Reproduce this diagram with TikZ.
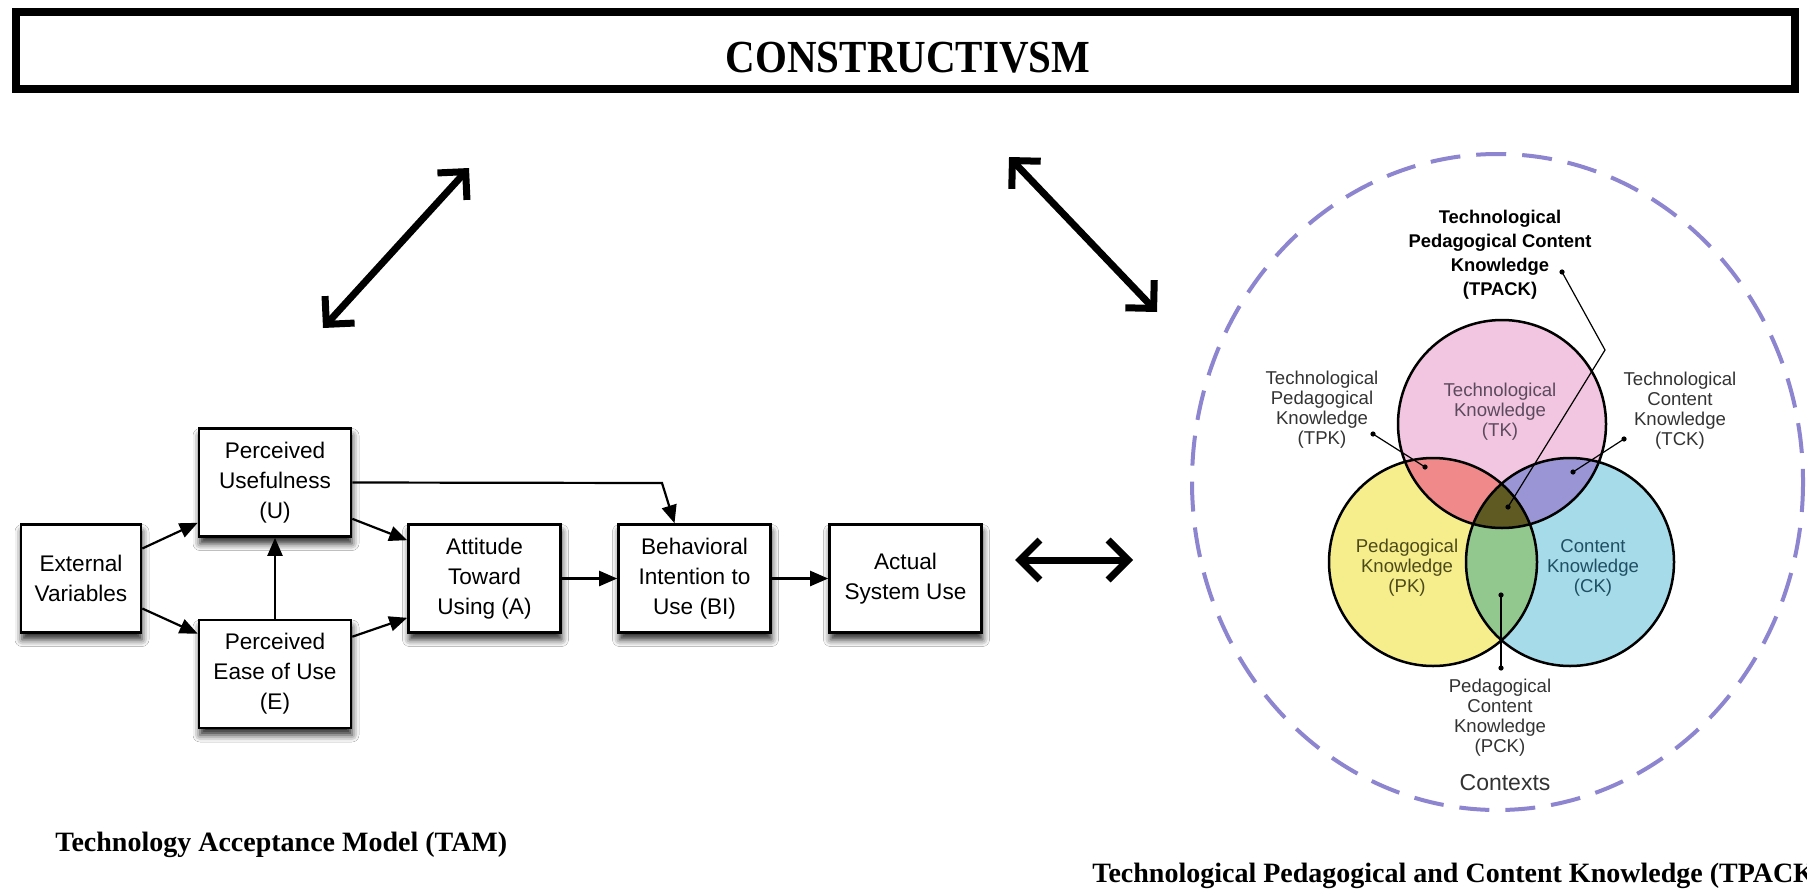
\documentclass[tikz,border=0pt]{standalone}
\usepackage{fontspec}
\setmainfont{Liberation Serif}
\newfontfamily\arial{Liberation Sans}
\usepackage{graphicx}
\usetikzlibrary{arrows.meta,shadows.blur}
\definecolor{tkpink}{HTML}{F2C6E0}
\definecolor{pkyellow}{HTML}{F6EE8C}
\definecolor{ckblue}{HTML}{A6DCEA}
\definecolor{tpkred}{HTML}{F08A8A}
\definecolor{tckviolet}{HTML}{9A96D6}
\definecolor{pckgreen}{HTML}{92C88E}
\definecolor{tpackolive}{HTML}{5E5A22}
\definecolor{ctxlav}{HTML}{8D85CF}
\definecolor{labelgray}{HTML}{333333}
\definecolor{tktext}{HTML}{5B4A5E}
\definecolor{pktext}{HTML}{4D4A1A}
\definecolor{cktext}{HTML}{1F4F63}
\begin{document}
\begin{tikzpicture}[x=0.5pt,y=-0.5pt,
  tambox/.style={draw=black, line width=1.3pt, fill=white, minimum width=76pt,
    minimum height=54pt, align=center, font=\arial\fontsize{11.3}{15}\selectfont,
    inner sep=0pt, blur shadow={shadow xshift=0.5pt, shadow yshift=-3.5pt,
    shadow blur radius=3.5pt, shadow opacity=85}},
  tamarrow/.style={line width=1.1pt, -{Triangle[length=9pt,width=7.5pt]}},
  bigarrow/.style={line width=3.5pt,
    {Straight Barb[length=10pt,width=20pt]}-{Straight Barb[length=10pt,width=20pt]}},
  venntext/.style={align=center, font=\arial\fontsize{9.3}{10}\selectfont,
    inner sep=0pt, text=labelgray},
  leader/.style={line width=0.6pt, black},
  vdot/.style={fill=black},
  caption/.style={anchor=west, inner sep=0pt, font=\bfseries\fontsize{14}{16}\selectfont}
]
\clip (0,0) rectangle (1807,894);
\fill[white] (0,0) rectangle (1807,894);

% title frame
\node[draw, line width=4pt, minimum width=889.5pt, minimum height=38.5pt, inner sep=0pt] (frame) at (905.5,50.5) {};
\node[inner sep=0pt, font=\bfseries\fontsize{20.5}{24}\selectfont] (title) at (908,58) {\scalebox{1}[1.12]{CONSTRUCTIVSM}};

% big arrows
\coordinate (a1s) at (323,328); \coordinate (a1e) at (469,168);
\coordinate (a2s) at (1009,157); \coordinate (a2e) at (1157,312);
\coordinate (a3s) at (1015,560); \coordinate (a3e) at (1133,560);
\draw[bigarrow] (a1s) -- (a1e);
\draw[bigarrow] (a2s) -- (a2e);
\draw[bigarrow] (a3s) -- (a3e);

% TAM
\node[tambox, minimum width=60pt] (ext) at (81,578.5) {External\\Variables};
\node[tambox] (U) at (275,482.5) {Perceived\\Usefulness\\(U)};
\node[tambox] (E) at (275,674) {Perceived\\Ease of Use\\(E)};
\node[tambox] (A) at (484.5,578.5) {Attitude\\Toward\\Using (A)};
\node[tambox] (BI) at (694.5,578.5) {Behavioral\\Intention to\\Use (BI)};
\node[tambox] (ASU) at (905.5,578.5) {Actual\\System Use};
\coordinate (ubend) at (662,483);
\draw[tamarrow] ([yshift=15pt]ext.east) -- ([yshift=7.5pt]U.south west);
\draw[tamarrow] ([yshift=-15pt]ext.east) -- ([yshift=-7.5pt]E.north west);
\draw[tamarrow] (E.north) -- (U.south);
\draw[tamarrow] ([yshift=9.5pt]U.south east) -- ([yshift=-8.5pt]A.north west);
\draw[tamarrow] ([yshift=-9pt]E.north east) -- ([yshift=8pt]A.south west);
\draw[tamarrow] (U.east) -- (ubend) -- ([xshift=-10pt]BI.north);
\draw[tamarrow] (A.east) -- (BI.west);
\draw[tamarrow] (BI.east) -- (ASU.west);

\node[caption] (tamcap) at (55,845) {Technology Acceptance Model (TAM)};
\node[caption] (tpackcap) at (1092,876) {Technological Pedagogical and Content Knowledge (TPACK)};

% TPACK
\draw[ctxlav, line width=2pt, dash pattern=on 15pt off 8pt] (1497.5,482) ellipse [x radius=305.5, y radius=328];
\coordinate (tk) at (1502,424);
\coordinate (pk) at (1433,562);
\coordinate (ck) at (1570,562);
\def\R{104}
\fill[tkpink] (tk) circle[radius=\R];
\fill[pkyellow] (pk) circle[radius=\R];
\fill[ckblue] (ck) circle[radius=\R];
\begin{scope}
  \clip (tk) circle[radius=\R];
  \fill[tpkred] (pk) circle[radius=\R];
  \fill[tckviolet] (ck) circle[radius=\R];
\end{scope}
\begin{scope}
  \clip (pk) circle[radius=\R];
  \fill[pckgreen] (ck) circle[radius=\R];
\end{scope}
\begin{scope}
  \clip (tk) circle[radius=\R];
  \clip (pk) circle[radius=\R];
  \fill[tpackolive] (ck) circle[radius=\R];
\end{scope}
\draw[line width=1.25pt] (tk) circle[radius=\R];
\draw[line width=1.25pt] (pk) circle[radius=\R];
\draw[line width=1.25pt] (ck) circle[radius=\R];

\node[venntext, text=tktext] (tklab) at (1500,412) {Technological\\Knowledge\\(TK)};
\node[venntext, text=pktext] (pklab) at (1407,568) {Pedagogical\\Knowledge\\(PK)};
\node[venntext, text=cktext] (cklab) at (1593,568) {Content\\Knowledge\\(CK)};
\node[venntext] (tpklab) at (1322,410) {Technological\\Pedagogical\\Knowledge\\(TPK)};
\node[venntext] (tcklab) at (1680,411) {Technological\\Content\\Knowledge\\(TCK)};
\node[venntext] (pcklab) at (1500,718) {Pedagogical\\Content\\Knowledge\\(PCK)};
\node[align=center, inner sep=0pt, text=black, font=\arial\bfseries\fontsize{9.2}{12}\selectfont] (tpacklab) at (1500,255) {Technological\\Pedagogical Content\\Knowledge\\(TPACK)};
\node[inner sep=0pt, text=labelgray, font=\arial\fontsize{11.5}{13}\selectfont] (ctx) at (1505,783) {Contexts};

\coordinate (d1) at (1562,272); \coordinate (d1b) at (1605,350); \coordinate (d1e) at (1508,507);
\coordinate (d2) at (1373,434); \coordinate (d2e) at (1425,467);
\coordinate (d3) at (1624,439); \coordinate (d3e) at (1573,472);
\coordinate (d4) at (1501,595); \coordinate (d4e) at (1501,668);
\draw[leader] (d1) -- (d1b) -- (d1e);
\draw[leader] (d2) -- (d2e);
\draw[leader] (d3) -- (d3e);
\draw[leader] (d4) -- (d4e);
\foreach \p in {d1,d1e,d2,d2e,d3,d3e,d4,d4e} \fill[vdot] (\p) circle[radius=2.6];
\end{tikzpicture}
\end{document}
